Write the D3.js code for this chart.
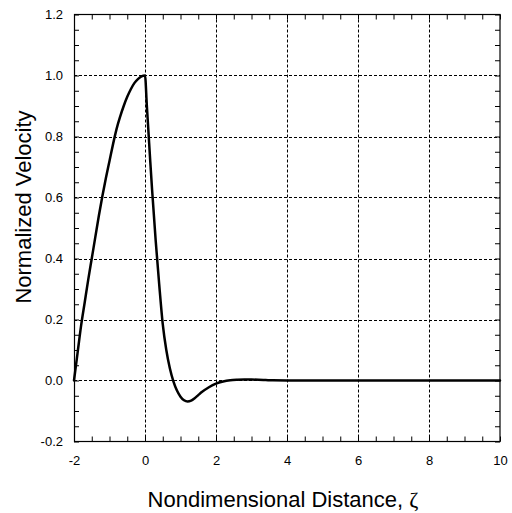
<!DOCTYPE html>
<html>
<head>
<meta charset="utf-8">
<script src="https://cdn.jsdelivr.net/npm/d3@7"></script>
<style>
  html, body { margin: 0; padding: 0; background: #fff; }
  svg { display: block; }
  text { font-family: "Liberation Sans", Arial, sans-serif; fill: #000; }
</style>
</head>
<body>
<svg id="chart" width="512" height="513"></svg>
<script>
// ---- data ----
const zeta = [-2, -1.9, -1.8, -1.7, -1.6, -1.5, -1.4, -1.3, -1.2, -1.1, -1.0,
  -0.9, -0.8, -0.7, -0.6, -0.5, -0.4, -0.3, -0.2, -0.1, 0,
  0.05, 0.1, 0.15, 0.2, 0.3, 0.4, 0.5, 0.6, 0.7, 0.8, 0.9, 1.0,
  1.1, 1.2, 1.3, 1.4, 1.5, 1.6, 1.8, 2.0, 2.2, 2.4, 2.6, 2.8, 3.0,
  3.2, 3.4, 3.6, 4.0, 6.0, 8.0, 10.0];
const velocity = [0, 0.09, 0.18, 0.255, 0.33, 0.40, 0.47, 0.54, 0.605, 0.665, 0.72,
  0.775, 0.825, 0.865, 0.90, 0.93, 0.955, 0.975, 0.988, 0.997, 1.0,
  0.905, 0.81, 0.715, 0.625, 0.46, 0.315, 0.185, 0.10, 0.04, -0.003, -0.033, -0.053,
  -0.065, -0.069, -0.066, -0.058, -0.048, -0.038, -0.022, -0.010, -0.003, 0.001, 0.0025, 0.003, 0.003,
  0.0025, 0.0015, 0.0005, 0, 0, 0, 0];
const xTicks = [-2, 0, 2, 4, 6, 8, 10];
const yTicks = [-0.2, 0.0, 0.2, 0.4, 0.6, 0.8, 1.0, 1.2];
const xMinorTicks = d3.range(-2, 10.001, 0.5);
const yMinorTicks = d3.range(-0.2, 1.2001, 0.05);
const xLabel = "Nondimensional Distance, ";
const xLabelSymbol = "\u03B6";
const yLabel = "Normalized Velocity";

// ---- layout ----
const L = 74, R = 500, T = 14.5, B = 441.5;
const svg = d3.select("#chart");
const x = d3.scaleLinear().domain([-2, 10]).range([L, R]);
const y = d3.scaleLinear().domain([-0.2, 1.2]).range([B, T]);

// gridlines
const grid = svg.append("g").attr("stroke", "#000").attr("stroke-width", 1)
  .attr("stroke-dasharray", "3,2").attr("fill", "none");
xTicks.filter(d => d > -2 && d < 10).forEach(d => {
  grid.append("line").attr("x1", Math.round(x(d)) + 0.5).attr("x2", Math.round(x(d)) + 0.5)
    .attr("y1", T).attr("y2", B);
});
yTicks.filter(d => d > -0.2 && d < 1.15).forEach(d => {
  grid.append("line").attr("y1", Math.round(y(d)) + 0.5).attr("y2", Math.round(y(d)) + 0.5)
    .attr("x1", L).attr("x2", R);
});

// axes with inward ticks (mirrored)
const tickLen = 5;
const axB = d3.axisBottom(x).tickValues(xMinorTicks).tickSize(-tickLen).tickFormat("");
const axT = d3.axisTop(x).tickValues(xMinorTicks).tickSize(-tickLen).tickFormat("");
const axLft = d3.axisLeft(y).tickValues(yMinorTicks).tickSize(-tickLen).tickFormat("");
const axRt = d3.axisRight(y).tickValues(yMinorTicks).tickSize(-tickLen).tickFormat("");
[[axB, `translate(0,${B})`], [axT, `translate(0,${T})`], [axLft, `translate(${L},0)`], [axRt, `translate(${R},0)`]]
  .forEach(([ax, tr]) => {
    const g = svg.append("g").attr("transform", tr).call(ax);
    g.select(".domain").remove();
    g.selectAll("line").attr("stroke", "#000").attr("stroke-width", 1);
  });

// tick labels via axes (no lines)
const hyphen = s => s.replace("\u2212", "-");
const xLab = svg.append("g").attr("transform", `translate(0,${B})`)
  .call(d3.axisBottom(x).tickValues(xTicks).tickSize(0).tickPadding(14)
    .tickFormat(d => hyphen(d3.format("d")(d))));
xLab.select(".domain").remove();
xLab.selectAll("text").attr("font-size", 13).attr("font-family", "Liberation Sans, Arial, sans-serif");
const yLab = svg.append("g").attr("transform", `translate(${L},0)`)
  .call(d3.axisLeft(y).tickValues(yTicks).tickSize(0).tickPadding(11)
    .tickFormat(d => hyphen(d3.format(".1f")(d))));
yLab.select(".domain").remove();
yLab.selectAll("text").attr("font-size", 13).attr("font-family", "Liberation Sans, Arial, sans-serif");

// frame
svg.append("rect").attr("x", L + 0.5).attr("y", T).attr("width", R - L - 0.5).attr("height", B - T)
  .attr("fill", "none").attr("stroke", "#000").attr("stroke-width", 1.2);

// curve
const pts = zeta.map((z, i) => [z, velocity[i]]);
const line = d3.line().x(d => x(d[0])).y(d => y(d[1])).curve(d3.curveMonotoneX);
svg.append("path").datum(pts).attr("d", line)
  .attr("fill", "none").attr("stroke", "#000").attr("stroke-width", 2.5)
  .attr("stroke-linejoin", "round").attr("stroke-linecap", "round");

// axis titles
const xt = svg.append("text").attr("x", 283).attr("y", 506.5).attr("text-anchor", "middle")
  .attr("font-size", 22);
xt.append("tspan").text(xLabel);
xt.append("tspan").attr("font-family", "Liberation Serif, Times New Roman, serif").text(xLabelSymbol);
svg.append("text").attr("transform", `translate(31,207) rotate(-90)`).attr("text-anchor", "middle")
  .attr("font-size", 22).text(yLabel);
</script>
</body>
</html>
